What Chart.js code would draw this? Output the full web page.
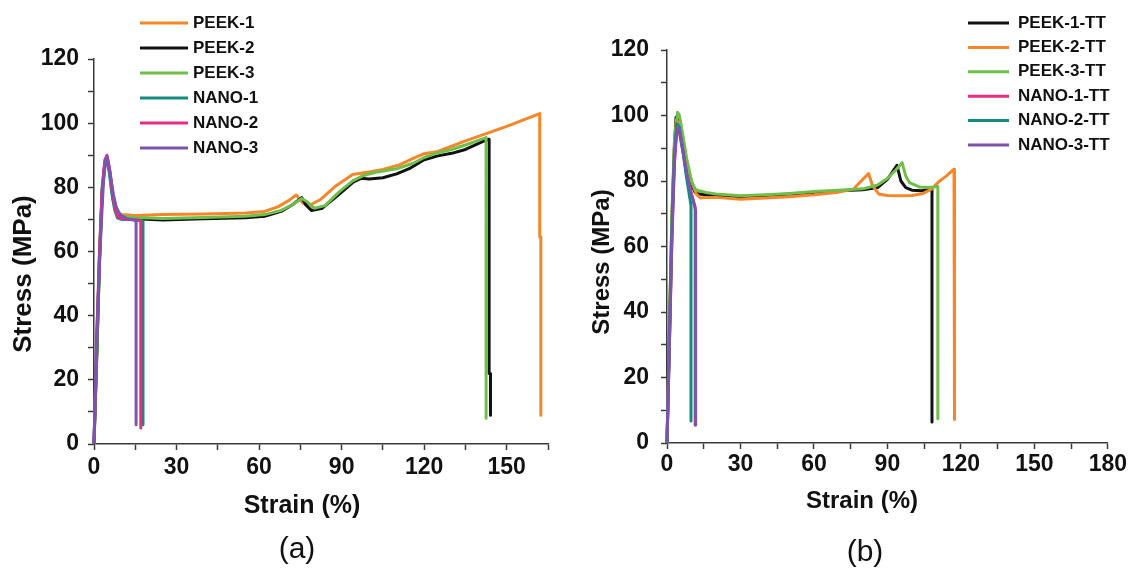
<!DOCTYPE html>
<html>
<head>
  <title>Stress-strain curves</title>
  <script src="https://cdn.jsdelivr.net/npm/chart.js"></script>
  <style>
    body {
      margin: 0;
      background-color: white;
    }
    canvas {
      position: absolute;
      top: 0;
    }
    #chartA { left: 0; }
    #chartB { left: 560px; }
  </style>
</head>
<body>
  <canvas id="chartA" width="560" height="569"></canvas>
  <canvas id="chartB" width="569" height="569"></canvas>

  <script>
    // (a) as-built samples
    const peek1X = [0, 1, 2, 3, 4, 4.8, 5.8, 7, 8.5, 10, 15, 25, 40, 55, 62, 67, 71, 73.5, 76, 78.5, 82.5, 88, 94, 100, 105, 111, 116, 120, 125, 129, 135, 142, 150, 162, 162, 162.4, 162.4];
    const peek1Y = [0, 28, 58, 80, 88.5, 89.5, 85, 77, 72.5, 71.5, 71.2, 71.5, 71.7, 72, 72.5, 74, 76, 77.6, 75, 74.5, 76.3, 80.5, 84, 84.8, 85.6, 87, 89, 90.5, 91.2, 92.5, 94.5, 96.6, 99, 103, 64.5, 64.5, 9];
    const peek2X = [0, 1, 2, 3, 4, 4.8, 5.8, 7, 8.5, 10, 15, 25, 40, 55, 62, 68, 72, 75.5, 77, 79, 83, 88, 94, 97, 100, 105, 110, 115, 120, 125, 130, 135, 141, 143.6, 143.6, 144.1, 144.1];
    const peek2Y = [0, 27, 57, 79, 88, 89, 84, 76, 72, 70.5, 70.2, 69.8, 70.2, 70.5, 71, 72.5, 74.5, 76.8, 74.5, 72.8, 73.5, 77, 81.5, 82.8, 82.6, 83, 84.2, 86, 88.6, 89.8, 90.6, 91.8, 94.2, 95, 22, 22, 9];
    const peek3X = [0, 1, 2, 3, 4, 4.8, 5.8, 7, 8.5, 10, 15, 25, 40, 55, 62, 68, 72, 75.5, 77.5, 80, 84, 89, 94, 98, 102, 110, 116, 120, 125, 130, 135, 142.5, 142.5];
    const peek3Y = [0, 29, 59, 80, 88.5, 89, 84.5, 76.5, 72.5, 71, 70.6, 70.3, 70.6, 71, 71.5, 72.8, 74.5, 76.5, 75.5, 73.5, 74.3, 78.5, 82, 83.7, 84.6, 85.8, 87.5, 89.3, 90.8, 91.8, 93.2, 95.5, 8];
    const nano1X = [0, 1, 2, 3, 4, 4.6, 5.5, 6.5, 7.5, 8.5, 10, 13, 16, 17.8, 17.8];
    const nano1Y = [0, 30, 58, 79, 87.5, 88.5, 85, 78, 73, 70.5, 70, 70, 69.8, 69.5, 6];
    const nano2X = [0, 1, 2, 3, 4, 4.7, 5.6, 6.6, 7.6, 8.6, 10, 13, 15.5, 17, 17];
    const nano2Y = [0, 33, 60, 80, 88.5, 90, 86, 79, 73.5, 71, 70.3, 70, 69.8, 69.5, 5];
    const nano3X = [0, 1, 2.2, 3.4, 4.2, 4.6, 5.5, 7, 8, 9.5, 12, 14, 15.3, 15.3];
    const nano3Y = [0, 34.5, 60.5, 81.3, 88.5, 89.5, 86, 78, 74, 71.4, 70.2, 70, 69.5, 6];

    // (b) heat-treated samples
    const tt1X = [0, 1, 2, 3, 3.7, 4.5, 6, 8, 10, 11.5, 13, 16, 20, 30, 40, 50, 60, 70, 80, 86, 90, 93.9, 95.5, 97.5, 100, 104, 108.2, 108.2];
    const tt1Y = [0, 35, 68, 90, 99.5, 99, 93, 85, 79, 76.5, 76, 75.8, 75.5, 75.3, 75.6, 76, 76.5, 77, 77.3, 78, 80.5, 84.8, 80, 78, 77.2, 77, 77.5, 6.4];
    const tt2X = [0, 1, 2, 3, 3.8, 4.6, 6, 8, 10, 12, 13.6, 16, 20, 30, 40, 50, 60, 70, 76, 80, 82.3, 84, 86.5, 90, 95, 100, 104.6, 108, 111, 114, 117.2, 117.4];
    const tt2Y = [0, 33, 66, 89, 98.5, 98, 93, 86, 80, 76, 74.8, 75, 75, 74.4, 74.8, 75.2, 75.8, 76.6, 77.5, 80.5, 82.3, 78.5, 76, 75.6, 75.5, 75.6, 76.2, 77.5, 79.8, 81.5, 83.6, 7.2];
    const tt3X = [0, 1, 2, 3, 4.3, 5, 6.5, 8, 10, 11.5, 13, 16, 20, 30, 40, 50, 60, 70, 80, 86, 90, 93, 96, 97.5, 99, 103, 107, 110.6, 110.6];
    const tt3Y = [0, 36, 70, 92, 101, 100.2, 94, 87, 80, 77.5, 77, 76.5, 76, 75.5, 75.8, 76.2, 76.8, 77.2, 77.6, 78.8, 80.8, 83, 85.6, 81.5, 79.5, 78.2, 78, 78.3, 7.4];
    const ttNano1X = [0, 1, 2, 3, 4, 5, 6.5, 8, 10, 11.5, 11.5];
    const ttNano1Y = [0, 30, 62, 85, 95.5, 95, 89, 82, 76, 72, 5.5];
    const ttNano2X = [0, 1, 2, 3, 4, 5, 6.5, 8, 9.8, 9.8];
    const ttNano2Y = [0, 32, 65, 88, 97.5, 96.5, 89, 81, 72.5, 6.7];
    const ttNano3X = [0, 1, 2, 3, 4, 5, 6.5, 8, 10, 11.7, 11.7];
    const ttNano3Y = [0, 31, 63, 86, 96.5, 96, 89.5, 82.5, 76, 71, 5.5];

    const labelsA = ["PEEK-1", "PEEK-2", "PEEK-3", "NANO-1", "NANO-2", "NANO-3"];
    const labelsB = ["PEEK-1-TT", "PEEK-2-TT", "PEEK-3-TT", "NANO-1-TT", "NANO-2-TT", "NANO-3-TT"];

    const ORANGE = "#f7862b";
    const BLACK = "#111111";
    const GREEN = "#6fbf4a";
    const TEAL = "#178a80";
    const PINK = "#e62c83";
    const PURPLE = "#7b55ad";

    const FONT = '"Liberation Sans", Arial, sans-serif';
    Chart.defaults.font.family = FONT;
    Chart.defaults.color = "#111";

    function points(xs, ys) {
      return xs.map((x, i) => ({ x: x, y: ys[i] }));
    }

    function makeDatasets(labels, colors, series) {
      return series.map((s, i) => ({
        label: labels[i],
        data: points(s[0], s[1]),
        borderColor: colors[i],
        backgroundColor: colors[i],
        borderWidth: 3,
        borderJoinStyle: "round",
        pointRadius: 0,
        showLine: true,
        tension: 0,
        clip: false,
        order: series.length - i
      }));
    }

    // legend drawn as short line + bold label, placed freely above the plot
    const lineLegend = {
      id: "lineLegend",
      afterDraw(chart, args, opts) {
        const ctx = chart.ctx;
        ctx.save();
        ctx.font = "bold " + opts.size + "px " + FONT;
        ctx.textBaseline = "middle";
        chart.data.datasets.forEach((ds, i) => {
          const y = opts.y + i * opts.gap;
          ctx.strokeStyle = ds.borderColor;
          ctx.lineWidth = 3;
          ctx.beginPath();
          ctx.moveTo(opts.x, y);
          ctx.lineTo(opts.x + opts.len, y);
          ctx.stroke();
          ctx.fillStyle = "#111";
          ctx.fillText(ds.label, opts.x + opts.len + opts.space, y);
        });
        ctx.restore();
      }
    };

    // axis titles and the panel letter
    const panelText = {
      id: "panelText",
      afterDraw(chart, args, opts) {
        const ctx = chart.ctx;
        ctx.save();
        ctx.fillStyle = "#111";
        ctx.textAlign = "center";
        ctx.textBaseline = "middle";
        ctx.font = "bold " + opts.xTitle.size + "px " + FONT;
        ctx.fillText(opts.xTitle.text, opts.xTitle.x, opts.xTitle.y);
        ctx.save();
        ctx.translate(opts.yTitle.x, opts.yTitle.y);
        ctx.rotate(-Math.PI / 2);
        ctx.font = "bold " + opts.yTitle.size + "px " + FONT;
        ctx.fillText(opts.yTitle.text, 0, 0);
        ctx.restore();
        ctx.font = opts.caption.size + "px " + FONT;
        ctx.fillText(opts.caption.text, opts.caption.x, opts.caption.y);
        ctx.restore();
      }
    };

    function makeChart(id, cfg) {
      const axisColor = "#3a3a3a";
      return new Chart(document.getElementById(id), {
        type: "scatter",
        data: { datasets: cfg.datasets },
        options: {
          responsive: false,
          animation: false,
          layout: { padding: cfg.padding },
          plugins: {
            legend: { display: false },
            tooltip: { enabled: false },
            lineLegend: cfg.legend,
            panelText: cfg.text
          },
          scales: {
            x: {
              type: "linear",
              min: 0,
              max: cfg.xMax,
              afterFit: s => { s.height = cfg.xHeight; },
              border: { display: true, color: axisColor, width: 1.5 },
              grid: { drawOnChartArea: false, drawTicks: true, tickLength: 6, tickColor: axisColor, tickWidth: 1.5 },
              ticks: {
                stepSize: 15,
                autoSkip: false,
                maxRotation: 0,
                includeBounds: false,
                padding: cfg.xPad,
                font: { size: cfg.tickSize, weight: "bold" },
                callback: v => (v % 30 === 0 ? v : "")
              }
            },
            y: {
              type: "linear",
              min: 0,
              max: 120,
              afterFit: s => { s.width = cfg.yWidth; },
              border: { display: true, color: axisColor, width: 1.5 },
              grid: { drawOnChartArea: false, drawTicks: true, tickLength: 6, tickColor: axisColor, tickWidth: 1.5 },
              ticks: {
                stepSize: 10,
                autoSkip: false,
                padding: cfg.yPad,
                font: { size: cfg.tickSize, weight: "bold" },
                callback: v => (v % 20 === 0 ? v : "")
              }
            }
          }
        },
        plugins: [lineLegend, panelText]
      });
    }

    makeChart("chartA", {
      datasets: makeDatasets(labelsA, [ORANGE, BLACK, GREEN, TEAL, PINK, PURPLE], [
        [peek1X, peek1Y], [peek2X, peek2Y], [peek3X, peek3Y],
        [nano1X, nano1Y], [nano2X, nano2Y], [nano3X, nano3Y]
      ]),
      xMax: 165,
      padding: { top: 59, right: 12, bottom: 0, left: 0 },
      yWidth: 94,
      xHeight: 125,
      tickSize: 23,
      xPad: 4,
      yPad: 9,
      legend: { x: 140, y: 23, gap: 25, len: 48, space: 5, size: 17 },
      text: {
        xTitle: { text: "Strain (%)", x: 302, y: 506, size: 25 },
        yTitle: { text: "Stress (MPa)", x: 24, y: 274, size: 26 },
        caption: { text: "(a)", x: 297, y: 550, size: 30 }
      }
    });

    makeChart("chartB", {
      datasets: makeDatasets(labelsB, [BLACK, ORANGE, GREEN, PINK, TEAL, PURPLE], [
        [tt1X, tt1Y], [tt2X, tt2Y], [tt3X, tt3Y],
        [ttNano1X, ttNano1Y], [ttNano2X, ttNano2Y], [ttNano3X, ttNano3Y]
      ]),
      xMax: 180,
      padding: { top: 50, right: 21, bottom: 0, left: 0 },
      yWidth: 107,
      xHeight: 126,
      tickSize: 23,
      xPad: 2,
      yPad: 12,
      legend: { x: 408, y: 23, gap: 24.4, len: 41, space: 9, size: 17 },
      text: {
        xTitle: { text: "Strain (%)", x: 302, y: 501, size: 24 },
        yTitle: { text: "Stress (MPa)", x: 42, y: 262, size: 24 },
        caption: { text: "(b)", x: 305, y: 553, size: 30 }
      }
    });
  </script>
</body>
</html>
